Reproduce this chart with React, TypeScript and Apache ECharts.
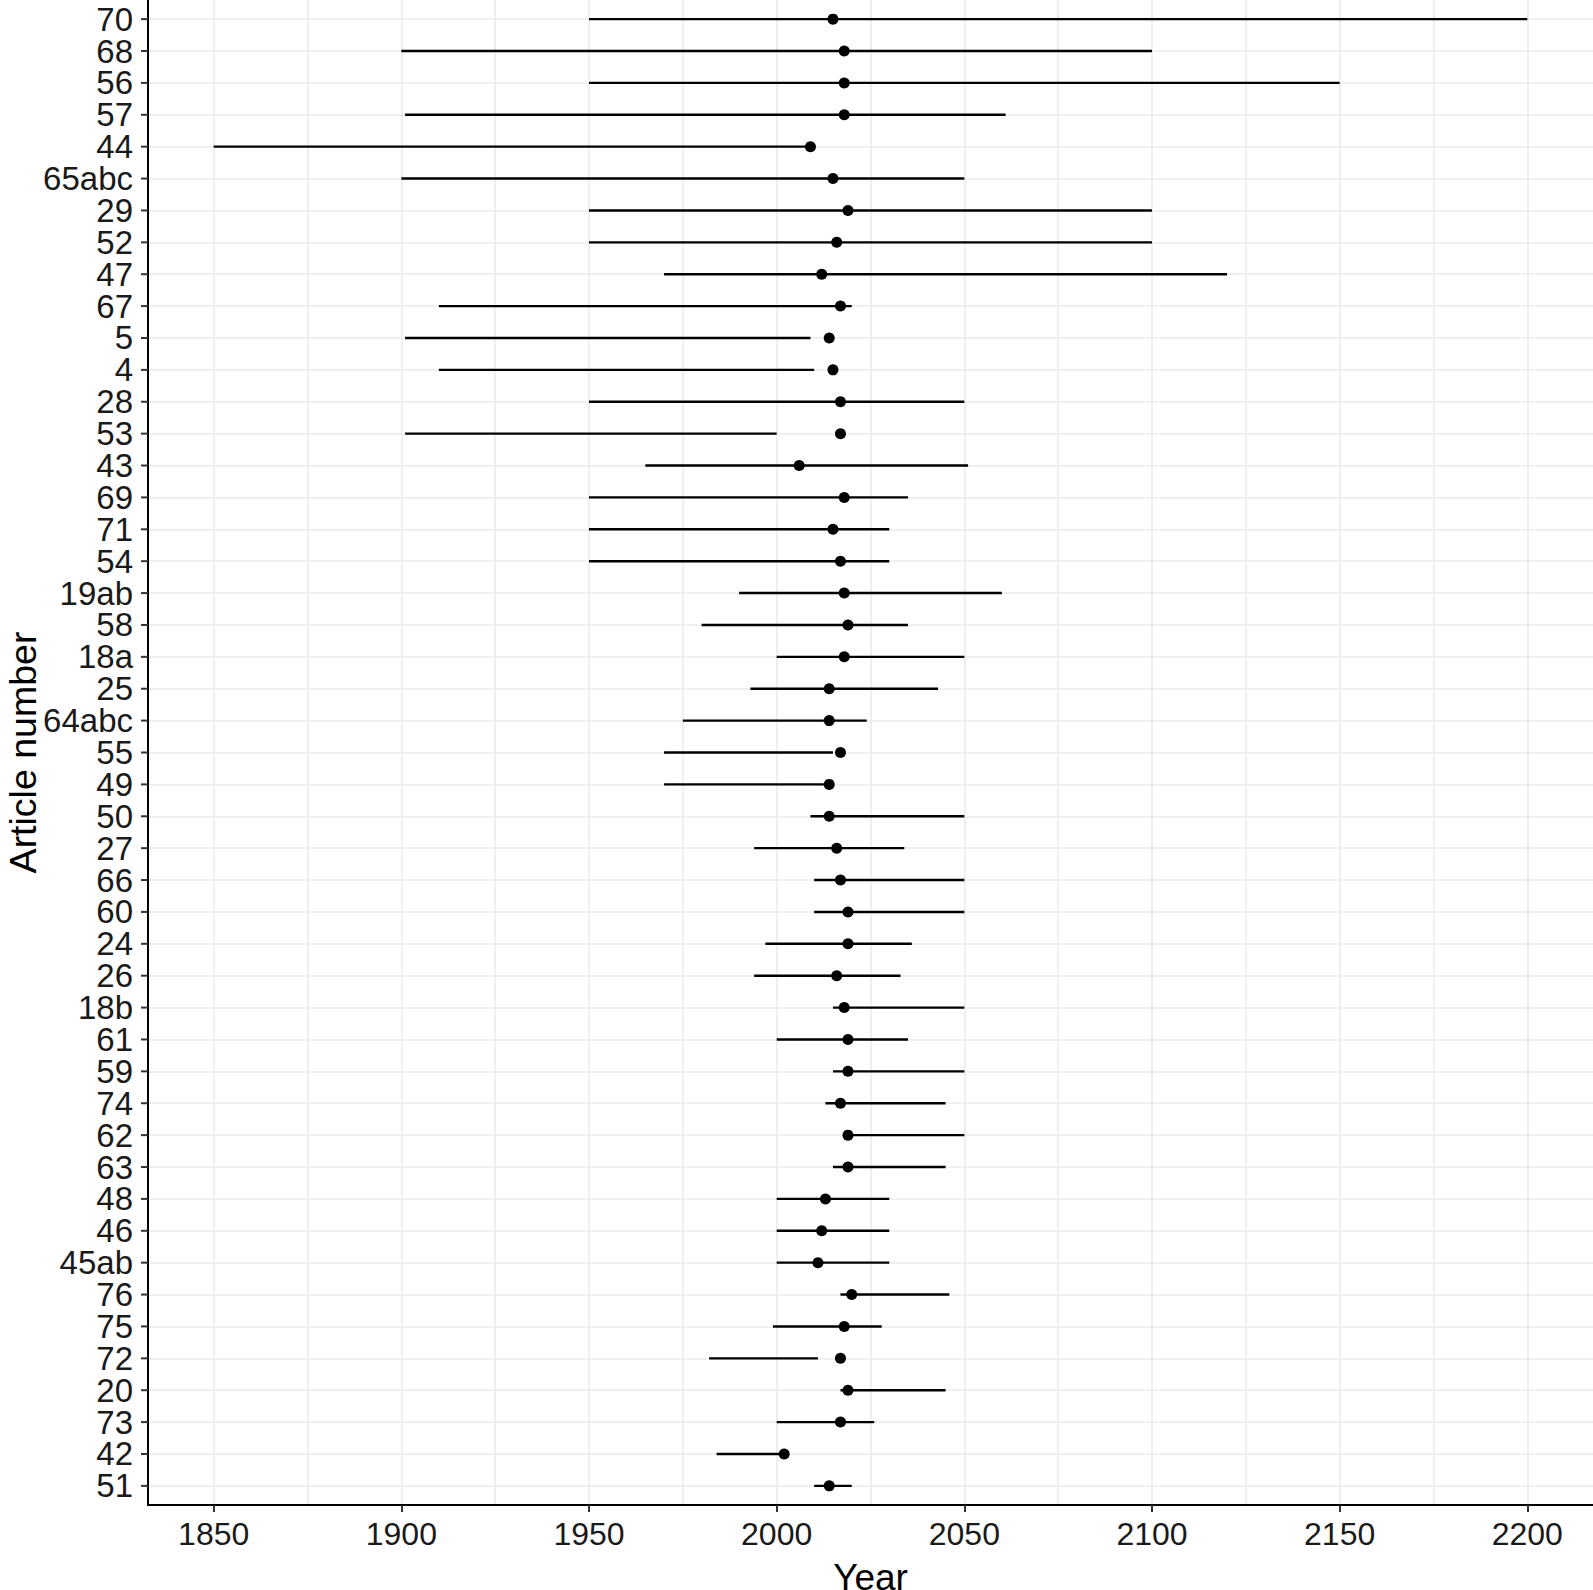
import React, { useEffect, useRef } from "react";
import * as echarts from "echarts";

const categories = ["70","68","56","57","44","65abc","29","52","47","67","5","4","28","53","43","69","71","54","19ab","58","18a","25","64abc","55","49","50","27","66","60","24","26","18b","61","59","74","62","63","48","46","45ab","76","75","72","20","73","42","51"];
const lowYear = [1950,1900,1950,1901,1850,1900,1950,1950,1970,1910,1901,1910,1950,1901,1965,1950,1950,1950,1990,1980,2000,1993,1975,1970,1970,2009,1994,2010,2010,1997,1994,2015,2000,2015,2013,2019,2015,2000,2000,2000,2017,1999,1982,2017,2000,1984,2010];
const highYear = [2200,2100,2150,2061,2009,2050,2100,2100,2120,2020,2009,2010,2050,2000,2051,2035,2030,2030,2060,2035,2050,2043,2024,2015,2014,2050,2034,2050,2050,2036,2033,2050,2035,2050,2045,2050,2045,2030,2030,2030,2046,2028,2011,2045,2026,2002,2020];
const pointYear = [2015,2018,2018,2018,2009,2015,2019,2016,2012,2017,2014,2015,2017,2017,2006,2018,2015,2017,2018,2019,2018,2014,2014,2017,2014,2014,2016,2017,2019,2019,2016,2018,2019,2019,2017,2019,2019,2013,2012,2011,2020,2018,2017,2019,2017,2002,2014];
const xTicks = [1850, 1900, 1950, 2000, 2050, 2100, 2150, 2200];
const xMinorGrid = [1875, 1925, 1975, 2025, 2075, 2125, 2175];

const FONT = "'Liberation Sans', Arial, sans-serif";

export default function App() {
  const ref = useRef<HTMLDivElement>(null);
  useEffect(() => {
    document.body.style.margin = "0";
    if (!ref.current) return;
    const chart = echarts.init(ref.current, undefined, { renderer: "svg" });
    const idx = categories.map((_, i) => i);
    const gridData = [
      ...xTicks.map((v) => ({ xAxis: v })),
      ...xMinorGrid.map((v) => ({ xAxis: v })),
      ...idx.map((i) => ({ yAxis: i })),
    ];
    chart.setOption({
      animation: false,
      backgroundColor: "#ffffff",
      grid: {
        left: 148,
        right: 0,
        top: 0,
        bottom: 85,
        containLabel: false,
        outerBoundsMode: "none",
      },
      xAxis: {
        type: "value",
        min: 1832.5,
        max: 2217.5,
        z: 8,
        name: "Year",
        nameLocation: "middle",
        nameGap: 60,
        nameTextStyle: { fontFamily: FONT, fontSize: 37, lineHeight: 24, color: "#000" },
        axisLine: { show: true, onZero: false, lineStyle: { color: "#000", width: 2 } },
        axisTick: { show: true, length: 7, customValues: xTicks, lineStyle: { color: "#333", width: 2 } },
        axisLabel: {
          customValues: xTicks,
          showMinLabel: true,
          showMaxLabel: true,
          margin: 13,
          fontFamily: FONT,
          fontSize: 32,
          color: "#1a1a1a",
          formatter: (v: number) => String(v),
        },
        splitLine: { show: false },
      },
      yAxis: {
        type: "value",
        min: -0.6,
        max: 46.6,
        inverse: true,
        z: 8,
        name: "Article number",
        nameLocation: "middle",
        nameRotate: 90,
        nameGap: 106,
        nameTextStyle: { fontFamily: FONT, fontSize: 37.5, color: "#000" },
        axisLine: { show: true, onZero: false, lineStyle: { color: "#000", width: 2 } },
        axisTick: { show: false },
        axisLabel: { show: false },
        splitLine: { show: false },
      },
      series: [
        {
          type: "line",
          data: [],
          z: 1,
          silent: true,
          markLine: {
            silent: true,
            z: 1,
            symbol: "none",
            label: { show: false },
            lineStyle: { color: "#EBEBEB", width: 1.6, type: "solid" },
            emphasis: { disabled: true },
            data: gridData,
          },
        },
        {
          type: "custom",
          name: "yLabels",
          z: 12,
          silent: true,
          clip: false,
          data: idx.map((i) => [1832.5, i]),
          encode: { x: 0, y: 1 },
          renderItem: (params: any, api: any) => {
            const i = Math.round(api.value(1));
            const p = api.coord([api.value(0), api.value(1)]);
            const x0 = params.coordSys.x;
            return {
              type: "group",
              children: [
                {
                  type: "line",
                  shape: { x1: x0 - 7, y1: p[1], x2: x0, y2: p[1] },
                  style: { stroke: "#333", lineWidth: 2 },
                },
                {
                  type: "text",
                  x: x0 - 15,
                  y: p[1],
                  style: {
                    text: categories[i],
                    fill: "#1a1a1a",
                    font: `33px ${FONT}`,
                    align: "right",
                    verticalAlign: "middle",
                  },
                },
              ],
            };
          },
        },
        {
          type: "custom",
          z: 10,
          silent: true,
          data: idx.map((i) => [lowYear[i], highYear[i], i]),
          encode: { x: [0, 1], y: 2 },
          renderItem: (params: any, api: any) => {
            const a = api.coord([api.value(0), api.value(2)]);
            const b = api.coord([api.value(1), api.value(2)]);
            return {
              type: "line",
              shape: { x1: a[0], y1: a[1], x2: b[0], y2: b[1] },
              style: { stroke: "#000", lineWidth: 2.4 },
            };
          },
        },
        {
          type: "scatter",
          z: 11,
          silent: true,
          symbol: "circle",
          symbolSize: 11,
          itemStyle: { color: "#000", opacity: 1 },
          data: idx.map((i) => [pointYear[i], i]),
        },
      ],
    });
    return () => chart.dispose();
  }, []);
  return <div ref={ref} style={{ width: 1593, height: 1590 }} />;
}
